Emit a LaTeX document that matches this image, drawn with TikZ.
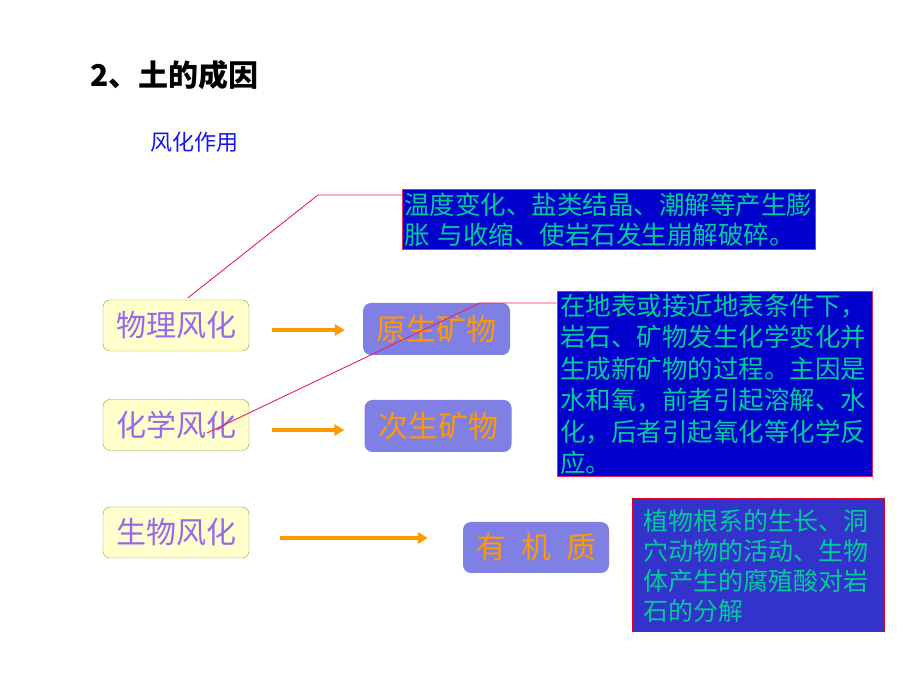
\documentclass[tikz,border=0pt]{standalone}
\usepackage{fontspec}
\setmainfont{Noto Sans CJK SC}
\usetikzlibrary{arrows.meta}
\definecolor{infoblue}{RGB}{0,0,204}
\definecolor{infotext}{RGB}{0,204,153}
\definecolor{decayblue}{RGB}{51,51,204}
\definecolor{calloutred}{RGB}{232,32,100}
\definecolor{boxred}{RGB}{230,0,40}
\definecolor{paleyellow}{RGB}{255,255,204}
\definecolor{olive}{RGB}{153,153,51}
\definecolor{typepurple}{RGB}{153,102,238}
\definecolor{mineralfill}{RGB}{128,128,228}
\definecolor{mineraltext}{RGB}{255,153,0}
\definecolor{titleblue}{RGB}{20,20,240}
\begin{document}
\begin{tikzpicture}[>=latex,line join=bevel,
  weatherbox/.style={draw=olive,fill=paleyellow,rounded corners=7bp,minimum width=146bp,minimum height=51bp,text=typepurple,font=\fontsize{30bp}{32bp}\selectfont},
  mineralbox/.style={draw=none,fill=mineralfill,rounded corners=8bp,minimum width=147bp,minimum height=52bp,text=mineraltext,font=\fontsize{30bp}{32bp}\selectfont},
  infobox/.style={draw=calloutred,line width=1bp,fill=infoblue,text=infotext,align=left,inner ysep=0bp},
  flowarrow/.style={draw=mineraltext,line width=3.5bp,-{Triangle[length=10bp,width=11bp]}},
  callout/.style={draw=calloutred,line width=0.9bp},
]
\useasboundingbox (0bp,0bp) rectangle (920bp,690bp);
%%
\node (node_title) at (90bp,615bp) [anchor=west,inner sep=0bp,font=\fontsize{30bp}{32bp}\selectfont\bfseries] {2、土的成因};
  \node (node_sub) at (150bp,548bp) [anchor=west,inner sep=0bp,text=titleblue,font=\fontsize{22bp}{24bp}\selectfont] {风化作用};
  \node (node_temp) at (608.5bp,470bp) [infobox,minimum height=60bp,text width=409bp,inner xsep=2bp,font=\fontsize{25.5bp}{30bp}\selectfont] {温度变化、盐类结晶、潮解等产生膨\\胀 与收缩、使岩石发生崩解破碎。};
  \node (node_phys) at (176bp,364.5bp) [weatherbox] {物理风化};
  \node (node_prim) at (436.5bp,361bp) [mineralbox] {原生矿物};
  \node (node_chem) at (176bp,265bp) [weatherbox] {化学风化};
  \node (node_sec) at (438bp,264bp) [mineralbox] {次生矿物};
  \node (node_react) at (714.5bp,305.5bp) [infobox,minimum height=185bp,text width=309bp,inner xsep=3bp,font=\fontsize{25.5bp}{31.5bp}\selectfont] {在地表或接近地表条件下，\\岩石、矿物发生化学变化并\\生成新矿物的过程。主因是\\水和氧，前者引起溶解、水\\化，后者引起氧化等化学反\\应。};
  \node (node_bio) at (176bp,157.5bp) [weatherbox] {生物风化};
  \node (node_org) at (536bp,142.5bp) [mineralbox,minimum width=146bp,minimum height=51bp] {有\hspace{0.5em}机\hspace{0.5em}质};
  \node (node_decay) at (758bp,124.5bp) [infobox,draw=boxred,fill=decayblue,minimum height=133bp,text width=230bp,inner xsep=11bp,font=\fontsize{25bp}{30bp}\selectfont] {植物根系的生长、洞\\穴动物的活动、生物\\体产生的腐殖酸对岩\\石的分解};
  \coordinate (bend_temp) at (318bp,495bp);
  \coordinate (bend_react) at (480bp,387bp);
  \draw [flowarrow,shorten <=23bp,shorten >=18bp] (node_phys.east |- 0,360bp) -- (node_prim.west |- 0,360bp);
  \draw [flowarrow,shorten <=23bp,shorten >=20bp] (node_chem.east |- 0,260bp) -- (node_sec.west |- 0,260bp);
  \draw [flowarrow,shorten <=31bp,shorten >=35bp] (node_bio.east |- 0,152bp) -- (node_org.west |- 0,152bp);
  \draw [callout] ([xshift=12bp,yshift=2bp]node_phys.north) -- (bend_temp) -- (node_temp.west |- bend_temp);
  \draw [callout] ([xshift=31bp,yshift=-8bp]node_chem.center) -- (bend_react) -- (node_react.west |- bend_react);
%
\end{tikzpicture}
\end{document}
